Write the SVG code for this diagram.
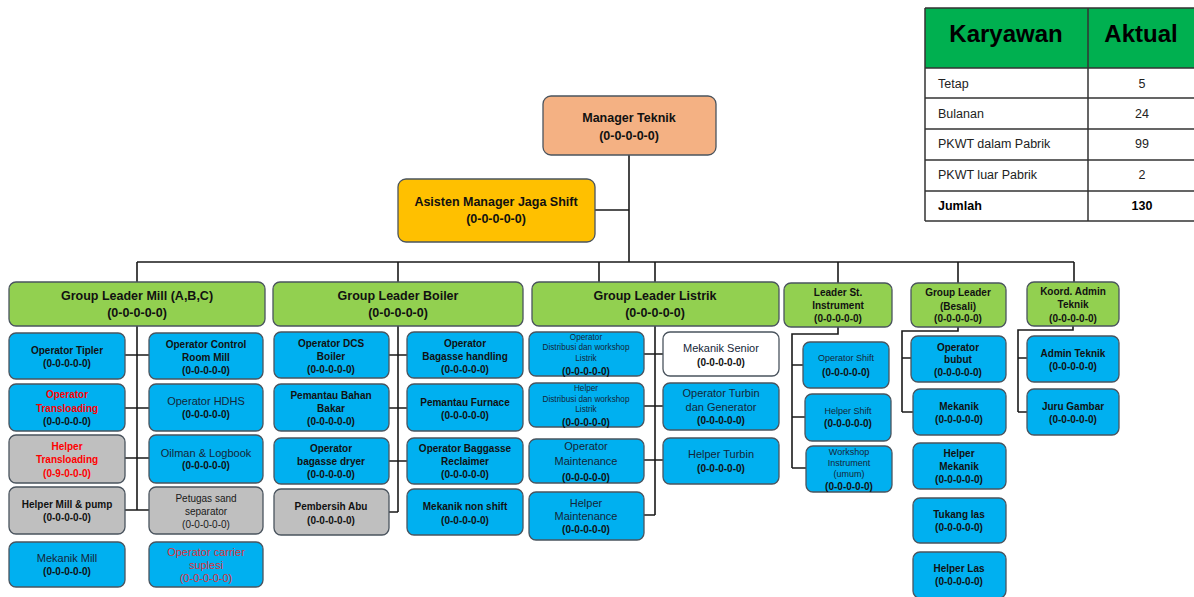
<svg xmlns="http://www.w3.org/2000/svg" width="1194" height="597" viewBox="0 0 1194 597">
<style>
  .bx{stroke:#4a545e;stroke-width:1.3}
  .blue{fill:#00B0F0}
  .green{fill:#92D050}
  .gray{fill:#BFBFBF}
  .white{fill:#FFFFFF}
  .salmon{fill:#F4B183}
  .gold{fill:#FFC000}
  text{font-family:"Liberation Sans",Arial,sans-serif;text-anchor:middle;fill:#111}
  .t{font-size:10px;font-weight:bold}
  .h{font-size:12.5px;font-weight:bold}
  .r{font-size:11px;fill:#142638}
  .r10{font-size:10px;fill:#1a1a1a}
  .s{font-size:8.2px;fill:#142638}
  .i{font-size:9px;fill:#142638}
  .red{fill:#FF0000}
  .pink{fill:#D8333B}
  .conn{fill:none;stroke:#1a1a1a;stroke-width:1.6}
  .tbl{stroke:#333;stroke-width:1.5;fill:none}
  .th{font-size:24px;font-weight:bold;fill:#000}
  .td{font-size:12.5px;fill:#222;text-anchor:start}
  .tv{font-size:12.5px;fill:#222}
</style>

<!-- staff summary table -->
<g id="table">
  <rect x="925" y="8" width="271" height="60" fill="#00B050"/>
  <path class="tbl" d="M925,8H1196M925,68H1196M925,98H1196M925,129H1196M925,160H1196M925,191H1196M925,221H1196M925,8V221M1088,8V221"/>
  <text class="th" x="1006" y="42">Karyawan</text>
  <text class="th" x="1141" y="42">Aktual</text>
  <text class="td" x="938" y="88">Tetap</text><text class="tv" x="1142" y="88">5</text>
  <text class="td" x="938" y="118">Bulanan</text><text class="tv" x="1142" y="118">24</text>
  <text class="td" x="938" y="148">PKWT dalam Pabrik</text><text class="tv" x="1142" y="148">99</text>
  <text class="td" x="938" y="179">PKWT luar Pabrik</text><text class="tv" x="1142" y="179">2</text>
  <text class="td" x="938" y="210" font-weight="bold" style="fill:#000">Jumlah</text><text class="tv" x="1142" y="210" font-weight="bold" style="fill:#000">130</text>
</g>

<!-- connectors -->
<g id="connectors">
  <path class="conn" d="M629,155V262M595,210H629M137,262H1074"/>
  <path class="conn" d="M137,262V282M398,262V282M599,262V282M655,262V282M838,262V283M958,262V283M1074,262V282"/>
  <path class="conn" d="M137,326V510M125,355H149M125,408H149M125,458H149M125,510H149"/>
  <path class="conn" d="M398,326V512M389,355H407M389,408H407M389,461H407M389,512H398"/>
  <path class="conn" d="M655,326V515M644,354H663M644,406H663M644,460H663M644,515H655"/>
  <path class="conn" d="M838,327V334H792V468M792,365H803M792,417H805M792,468H806"/>
  <path class="conn" d="M958,327V331H902V412M902,358H911M902,412H913"/>
  <path class="conn" d="M1073,326V330H1018V412M1018,358H1027M1018,412H1027"/>
</g>

<!-- top management -->
<g id="manager-teknik">
  <rect class="bx salmon" x="543" y="96" width="173" height="59" rx="8"/>
  <text class="h" x="629" y="122">Manager Teknik</text>
  <text class="h" x="629" y="140">(0-0-0-0-0)</text>
</g>
<g id="asisten-manager">
  <rect class="bx gold" x="398" y="179" width="197" height="63" rx="8"/>
  <text class="h" x="496" y="206">Asisten Manager Jaga Shift</text>
  <text class="h" x="496" y="223">(0-0-0-0-0)</text>
</g>

<!-- group leaders -->
<g id="gl-mill">
  <rect class="bx green" x="9" y="282" width="256" height="44" rx="7"/>
  <text class="h" x="137" y="300">Group Leader Mill (A,B,C)</text>
  <text class="h" x="137" y="317">(0-0-0-0-0)</text>
</g>
<g id="gl-boiler">
  <rect class="bx green" x="273" y="282" width="250" height="44" rx="7"/>
  <text class="h" x="398" y="300">Group Leader Boiler</text>
  <text class="h" x="398" y="317">(0-0-0-0-0)</text>
</g>
<g id="gl-listrik">
  <rect class="bx green" x="532" y="282" width="247" height="44" rx="7"/>
  <text class="h" x="655" y="300">Group Leader Listrik</text>
  <text class="h" x="655" y="317">(0-0-0-0-0)</text>
</g>
<g id="leader-instrument">
  <rect class="bx green" x="784" y="283" width="108" height="44" rx="7"/>
  <text class="t" x="838" y="296">Leader St.</text>
  <text class="t" x="838" y="309">Instrument</text>
  <text class="t" x="838" y="322">(0-0-0-0-0)</text>
</g>
<g id="gl-besali">
  <rect class="bx green" x="911" y="283" width="95" height="44" rx="7"/>
  <text class="t" x="958" y="296">Group Leader</text>
  <text class="t" x="958" y="310">(Besali)</text>
  <text class="t" x="958" y="322">(0-0-0-0-0)</text>
</g>
<g id="koord-admin">
  <rect class="bx green" x="1027" y="282" width="92" height="44" rx="7"/>
  <text class="t" x="1073" y="295">Koord. Admin</text>
  <text class="t" x="1073" y="308">Teknik</text>
  <text class="t" x="1073" y="322">(0-0-0-0-0)</text>
</g>

<!-- mill section -->
<g id="operator-tipler">
  <rect class="bx blue" x="9" y="333" width="116" height="46" rx="7"/>
  <text class="t" x="67" y="354">Operator Tipler</text>
  <text class="t" x="67" y="367">(0-0-0-0-0)</text>
</g>
<g id="operator-control-room">
  <rect class="bx blue" x="149" y="333" width="114" height="46" rx="7"/>
  <text class="t" x="206" y="348">Operator Control</text>
  <text class="t" x="206" y="361">Room Mill</text>
  <text class="t" x="206" y="374">(0-0-0-0-0)</text>
</g>
<g id="operator-transloading">
  <rect class="bx blue" x="9" y="384" width="116" height="47" rx="7"/>
  <text class="t red" x="67" y="398">Operator</text>
  <text class="t red" x="67" y="412">Transloading</text>
  <text class="t" x="67" y="425">(0-0-0-0-0)</text>
</g>
<g id="operator-hdhs">
  <rect class="bx blue" x="149" y="384" width="114" height="47" rx="7"/>
  <text class="r" x="206" y="405">Operator  HDHS</text>
  <text class="t" x="206" y="418">(0-0-0-0-0)</text>
</g>
<g id="helper-transloading">
  <rect class="bx gray" x="9" y="435" width="116" height="48" rx="7"/>
  <text class="t red" x="67" y="450">Helper</text>
  <text class="t red" x="67" y="463">Transloading</text>
  <text class="t red" x="67" y="477">(0-9-0-0-0)</text>
</g>
<g id="oilman-logbook">
  <rect class="bx blue" x="149" y="435" width="114" height="48" rx="7"/>
  <text class="r" x="206" y="457">Oilman  &amp; Logbook</text>
  <text class="t" x="206" y="469">(0-0-0-0-0)</text>
</g>
<g id="helper-mill-pump">
  <rect class="bx gray" x="9" y="487" width="116" height="47" rx="7"/>
  <text class="t" x="67" y="508">Helper Mill &amp; pump</text>
  <text class="t" x="67" y="521">(0-0-0-0-0)</text>
</g>
<g id="petugas-sand">
  <rect class="bx gray" x="149" y="487" width="114" height="47" rx="7"/>
  <text class="r10" x="206" y="502">Petugas sand</text>
  <text class="r10" x="206" y="515">separator</text>
  <text class="r10" x="206" y="528">(0-0-0-0-0)</text>
</g>
<g id="mekanik-mill">
  <rect class="bx blue" x="9" y="542" width="116" height="45" rx="7"/>
  <text class="r" x="67" y="562">Mekanik  Mill</text>
  <text class="t" x="67" y="575">(0-0-0-0-0)</text>
</g>
<g id="operator-carrier">
  <rect class="bx blue" x="149" y="542" width="114" height="45" rx="7"/>
  <text class="r pink" x="206" y="556">Operator  carrier</text>
  <text class="r pink" x="206" y="569">suplesi</text>
  <text class="r pink" x="206" y="582">(0-0-0-0-0)</text>
</g>

<!-- boiler section -->
<g id="operator-dcs">
  <rect class="bx blue" x="274" y="332" width="115" height="46" rx="7"/>
  <text class="t" x="331" y="347">Operator DCS</text>
  <text class="t" x="331" y="360">Boiler</text>
  <text class="t" x="331" y="373">(0-0-0-0-0)</text>
</g>
<g id="operator-bagasse-handling">
  <rect class="bx blue" x="407" y="332" width="116" height="46" rx="7"/>
  <text class="t" x="465" y="347">Operator</text>
  <text class="t" x="465" y="360">Bagasse handling</text>
  <text class="t" x="465" y="373">(0-0-0-0-0)</text>
</g>
<g id="pemantau-bahan-bakar">
  <rect class="bx blue" x="274" y="384" width="115" height="47" rx="7"/>
  <text class="t" x="331" y="399">Pemantau Bahan</text>
  <text class="t" x="331" y="412">Bakar</text>
  <text class="t" x="331" y="425">(0-0-0-0-0)</text>
</g>
<g id="pemantau-furnace">
  <rect class="bx blue" x="407" y="384" width="116" height="47" rx="7"/>
  <text class="t" x="465" y="406">Pemantau Furnace</text>
  <text class="t" x="465" y="419">(0-0-0-0-0)</text>
</g>
<g id="operator-bagasse-dryer">
  <rect class="bx blue" x="274" y="438" width="115" height="46" rx="7"/>
  <text class="t" x="331" y="452">Operator</text>
  <text class="t" x="331" y="465">bagasse dryer</text>
  <text class="t" x="331" y="478">(0-0-0-0-0)</text>
</g>
<g id="operator-reclaimer">
  <rect class="bx blue" x="407" y="438" width="116" height="46" rx="7"/>
  <text class="t" x="465" y="452">Operator Baggasse</text>
  <text class="t" x="465" y="465">Reclaimer</text>
  <text class="t" x="465" y="478">(0-0-0-0-0)</text>
</g>
<g id="pembersih-abu">
  <rect class="bx gray" x="274" y="489" width="115" height="46" rx="7"/>
  <text class="t" x="331" y="510">Pembersih Abu</text>
  <text class="t" x="331" y="524">(0-0-0-0-0)</text>
</g>
<g id="mekanik-non-shift">
  <rect class="bx blue" x="407" y="489" width="116" height="46" rx="7"/>
  <text class="t" x="465" y="510">Mekanik non shift</text>
  <text class="t" x="465" y="524">(0-0-0-0-0)</text>
</g>

<!-- electrical section -->
<g id="operator-distribusi">
  <rect class="bx blue" x="529" y="332" width="115" height="44" rx="7"/>
  <text class="s" x="586" y="340">Operator</text>
  <text class="s" x="586" y="350">Distribusi dan workshop</text>
  <text class="s" x="586" y="361">Listrik</text>
  <text class="t" x="586" y="375">(0-0-0-0-0)</text>
</g>
<g id="mekanik-senior">
  <rect class="bx white" x="663" y="332" width="116" height="44" rx="7"/>
  <text class="r" x="721" y="352">Mekanik  Senior</text>
  <text class="t" x="721" y="366">(0-0-0-0-0)</text>
</g>
<g id="helper-distribusi">
  <rect class="bx blue" x="529" y="383" width="115" height="44" rx="7"/>
  <text class="s" x="586" y="391">Helper</text>
  <text class="s" x="586" y="402">Distribusi dan workshop</text>
  <text class="s" x="586" y="412">Listrik</text>
  <text class="t" x="586" y="426">(0-0-0-0-0)</text>
</g>
<g id="operator-turbin">
  <rect class="bx blue" x="663" y="383" width="116" height="47" rx="7"/>
  <text class="r" x="721" y="397">Operator  Turbin</text>
  <text class="r" x="721" y="411">dan  Generator</text>
  <text class="t" x="721" y="424">(0-0-0-0-0)</text>
</g>
<g id="operator-maintenance">
  <rect class="bx blue" x="529" y="439" width="115" height="44" rx="7"/>
  <text class="r" x="586" y="450" font-size="11.5">Operator</text>
  <text class="r" x="586" y="465" font-size="11.5">Maintenance</text>
  <text class="t" x="586" y="481" font-size="13">(0-0-0-0-0)</text>
</g>
<g id="helper-turbin">
  <rect class="bx blue" x="663" y="438" width="116" height="46" rx="7"/>
  <text class="r" x="721" y="458">Helper  Turbin</text>
  <text class="t" x="721" y="472">(0-0-0-0-0)</text>
</g>
<g id="helper-maintenance">
  <rect class="bx blue" x="529" y="492" width="115" height="48" rx="7"/>
  <text class="r" x="586" y="507">Helper</text>
  <text class="r" x="586" y="520">Maintenance</text>
  <text class="t" x="586" y="533">(0-0-0-0-0)</text>
</g>

<!-- instrument section -->
<g id="operator-shift">
  <rect class="bx blue" x="803" y="342" width="86" height="46" rx="7"/>
  <text class="i" x="846" y="361">Operator Shift</text>
  <text class="t" x="846" y="376">(0-0-0-0-0)</text>
</g>
<g id="helper-shift">
  <rect class="bx blue" x="805" y="394" width="86" height="47" rx="7"/>
  <text class="i" x="848" y="414">Helper Shift</text>
  <text class="t" x="848" y="427">(0-0-0-0-0)</text>
</g>
<g id="workshop-instrument">
  <rect class="bx blue" x="806" y="446" width="86" height="46" rx="7"/>
  <text class="i" x="849" y="455">Workshop</text>
  <text class="i" x="849" y="466">Instrument</text>
  <text class="i" x="849" y="477">(umum)</text>
  <text class="t" x="849" y="490">(0-0-0-0-0)</text>
</g>

<!-- workshop (besali) section -->
<g id="operator-bubut">
  <rect class="bx blue" x="911" y="336" width="95" height="46" rx="7"/>
  <text class="t" x="958" y="351">Operator</text>
  <text class="t" x="958" y="363">bubut</text>
  <text class="t" x="958" y="376">(0-0-0-0-0)</text>
</g>
<g id="mekanik">
  <rect class="bx blue" x="913" y="389" width="93" height="46" rx="7"/>
  <text class="t" x="959" y="410">Mekanik</text>
  <text class="t" x="959" y="423">(0-0-0-0-0)</text>
</g>
<g id="helper-mekanik">
  <rect class="bx blue" x="913" y="443" width="93" height="46" rx="7"/>
  <text class="t" x="959" y="457">Helper</text>
  <text class="t" x="959" y="470">Mekanik</text>
  <text class="t" x="959" y="483">(0-0-0-0-0)</text>
</g>
<g id="tukang-las">
  <rect class="bx blue" x="913" y="498" width="93" height="45" rx="7"/>
  <text class="t" x="959" y="518">Tukang las</text>
  <text class="t" x="959" y="531">(0-0-0-0-0)</text>
</g>
<g id="helper-las">
  <rect class="bx blue" x="913" y="552" width="93" height="46" rx="7"/>
  <text class="t" x="959" y="572">Helper Las</text>
  <text class="t" x="959" y="585">(0-0-0-0-0)</text>
</g>

<!-- admin section -->
<g id="admin-teknik">
  <rect class="bx blue" x="1027" y="336" width="92" height="46" rx="7"/>
  <text class="t" x="1073" y="357">Admin Teknik</text>
  <text class="t" x="1073" y="370">(0-0-0-0-0)</text>
</g>
<g id="juru-gambar">
  <rect class="bx blue" x="1027" y="389" width="92" height="46" rx="7"/>
  <text class="t" x="1073" y="410">Juru Gambar</text>
  <text class="t" x="1073" y="423">(0-0-0-0-0)</text>
</g>
</svg>
